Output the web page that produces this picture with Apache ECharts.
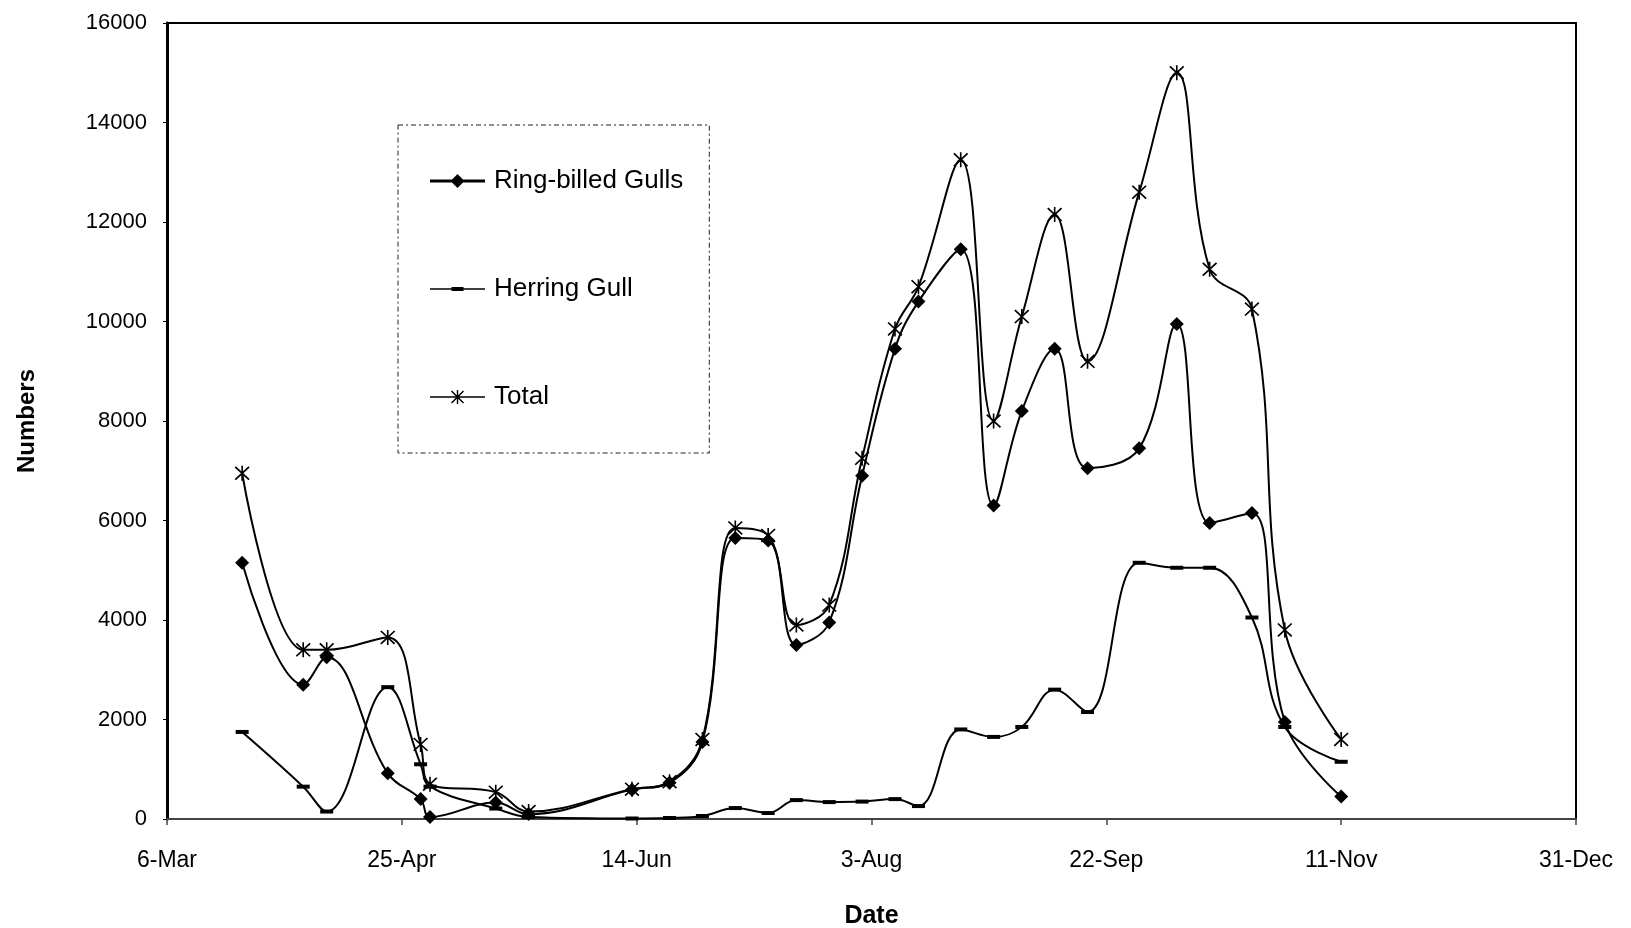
<!DOCTYPE html>
<html>
<head>
<meta charset="utf-8">
<title>Gull numbers</title>
<script src="https://cdn.jsdelivr.net/npm/echarts@6/dist/echarts.min.js"></script>
<style>
  html, body { margin: 0; padding: 0; background: #fff; }
  #chart { width: 1631px; height: 928px; }
</style>
</head>
<body>
<div id="chart"></div>
<script>
// Survey dates as day offsets from 6 March
const sampleDays = [16, 29, 34, 47, 54, 56, 70, 77, 99, 107, 114, 121, 128, 134, 141,
  148, 155, 160, 169, 176, 182, 189, 196, 207, 215, 222, 231, 238, 250];

const ringBilled = [5150, 2700, 3250, 920, 400, 40, 330, 100, 590, 730, 1550, 5650, 5600,
  3500, 3950, 6900, 9450, 10400, 11450, 6300, 8200, 9450, 7050, 7450, 9950, 5950, 6150, 1950, 450];

const herring = [1750, 650, 150, 2650, 1100, 650, 210, 40, 10, 20, 60, 220, 120,
  380, 340, 350, 400, 260, 1800, 1650, 1850, 2600, 2150, 5150, 5050, 5050, 4050, 1850, 1150];

const total = [6950, 3400, 3400, 3650, 1500, 700, 540, 150, 600, 750, 1600, 5850, 5700,
  3900, 4300, 7250, 9850, 10700, 13250, 8000, 10100, 12150, 9200, 12600, 15000, 11050, 10250, 3800, 1600];

// Tick labels every 50 days
const dateTicks = ['6-Mar', '25-Apr', '14-Jun', '3-Aug', '22-Sep', '11-Nov', '31-Dec'];

const FONT = '"Liberation Sans", Arial, sans-serif';

// Marker shapes
const asteriskPath = 'path://M6.3,0 L7.7,0 L7.7,14 L6.3,14 Z ' +
  'M1.53,0.47 L13.53,12.47 L12.47,13.53 L0.47,1.53 Z ' +
  'M12.47,0.47 L13.53,1.53 L1.53,13.53 L0.47,12.47 Z';

// Legend icons: line with marker, drawn in a 55 x 14 box
const legendRing = 'path://M0,5.6 L55,5.6 L55,8.4 L0,8.4 Z M27.5,0 L34.5,7 L27.5,14 L20.5,7 Z';
const legendHerring = 'path://M0,0 L0,0 Z M55,14 L55,14 Z M0,6.3 L55,6.3 L55,7.7 L0,7.7 Z ' +
  'M21.5,5 L33.5,5 L33.5,9 L21.5,9 Z';
const legendTotal = 'path://M0,6.3 L55,6.3 L55,7.7 L0,7.7 Z ' +
  'M26.8,0 L28.2,0 L28.2,14 L26.8,14 Z ' +
  'M22.03,0.47 L34.03,12.47 L32.97,13.53 L20.97,1.53 Z ' +
  'M32.97,0.47 L34.03,1.53 L22.03,13.53 L20.97,12.47 Z';

function pairs(values) {
  return sampleDays.map((d, i) => [d, values[i]]);
}

const chart = echarts.init(document.getElementById('chart'), null, { renderer: 'canvas' });

chart.setOption({
  animation: false,
  backgroundColor: '#fff',
  color: ['#000', '#000', '#000'],
  grid: {
    left: 167, right: 55, top: 23, bottom: 109,
    outerBoundsMode: 'none',
    show: true, borderColor: '#000', borderWidth: 2, backgroundColor: 'transparent'
  },
  legend: {
    orient: 'vertical',
    left: 398, top: 125,
    itemWidth: 55, itemHeight: 14, itemGap: 80,
    padding: [42, 26, 42, 32],
    backgroundColor: '#fff',
    borderColor: '#222', borderWidth: 1, borderType: [5, 3, 2, 3],
    symbolKeepAspect: false,
    textStyle: { fontFamily: FONT, fontSize: 26, color: '#000', lineHeight: 28, padding: [0, 0, 0, 4] },
    data: [
      { name: 'Ring-billed Gulls', icon: legendRing },
      { name: 'Herring Gull', icon: legendHerring },
      { name: 'Total', icon: legendTotal }
    ]
  },
  xAxis: {
    type: 'value', min: 0, max: 300, interval: 50,
    name: 'Date', nameLocation: 'middle', nameGap: 85,
    nameTextStyle: { fontFamily: FONT, fontSize: 25, fontWeight: 'bold', color: '#000' },
    axisLine: { show: true, lineStyle: { color: '#444', width: 2 } },
    axisTick: { show: true, length: 6, lineStyle: { color: '#444', width: 1.5 } },
    splitLine: { show: false },
    axisLabel: {
      margin: 30, fontFamily: FONT, fontSize: 23, color: '#000',
      formatter: v => dateTicks[Math.round(v / 50)]
    }
  },
  yAxis: {
    type: 'value', min: 0, max: 16000, interval: 2000,
    name: 'Numbers', nameLocation: 'middle', nameGap: 128, nameRotate: 90,
    nameTextStyle: { fontFamily: FONT, fontSize: 24, fontWeight: 'bold', color: '#000' },
    axisLine: { show: true, lineStyle: { color: '#000', width: 3 } },
    axisTick: { show: true, length: 4, lineStyle: { color: '#000', width: 1 } },
    splitLine: { show: false },
    axisLabel: {
      margin: 20, fontFamily: FONT, fontSize: 22, color: '#000',
      formatter: v => String(v)
    }
  },
  series: [
    {
      name: 'Ring-billed Gulls', type: 'line', smooth: 0.4,
      data: pairs(ringBilled),
      symbol: 'diamond', symbolSize: 14,
      lineStyle: { color: '#000', width: 2 },
      itemStyle: { color: '#000' }
    },
    {
      name: 'Herring Gull', type: 'line', smooth: 0.4,
      data: pairs(herring),
      symbol: 'rect', symbolSize: [13, 4],
      lineStyle: { color: '#000', width: 2 },
      itemStyle: { color: '#000' }
    },
    {
      name: 'Total', type: 'line', smooth: 0.4,
      data: pairs(total),
      symbol: asteriskPath, symbolSize: 15,
      lineStyle: { color: '#000', width: 2 },
      itemStyle: { color: '#000' }
    }
  ]
});
</script>
</body>
</html>
